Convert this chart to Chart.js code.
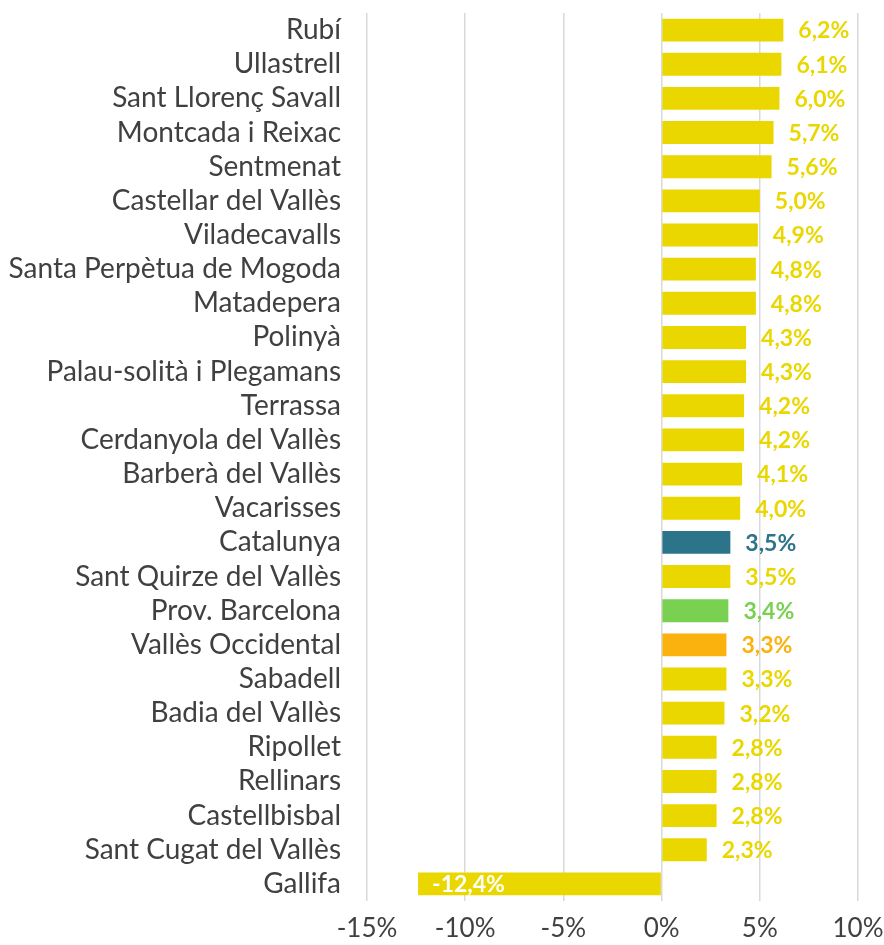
<!DOCTYPE html>
<html>
<head>
<meta charset="utf-8">
<script src="https://cdn.jsdelivr.net/npm/chart.js@4"></script>
<style>
  html, body { margin: 0; padding: 0; background: #fff; }
  #wrap { width: 884px; height: 945px; }
</style>
</head>
<body>
<div id="wrap"><canvas id="variacioChart" width="884" height="945"></canvas></div>
<script>
const municipis = [
    'Rubí', 'Ullastrell', 'Sant Llorenç Savall', 'Montcada i Reixac', 'Sentmenat',
    'Castellar del Vallès', 'Viladecavalls', 'Santa Perpètua de Mogoda', 'Matadepera', 'Polinyà',
    'Palau-solità i Plegamans', 'Terrassa', 'Cerdanyola del Vallès', 'Barberà del Vallès', 'Vacarisses',
    'Catalunya', 'Sant Quirze del Vallès', 'Prov. Barcelona', 'Vallès Occidental', 'Sabadell',
    'Badia del Vallès', 'Ripollet', 'Rellinars', 'Castellbisbal', 'Sant Cugat del Vallès', 'Gallifa'
];
const variacio = [
    6.2, 6.1, 6.0, 5.7, 5.6,
    5.0, 4.9, 4.8, 4.8, 4.3,
    4.3, 4.2, 4.2, 4.1, 4.0,
    3.5, 3.5, 3.4, 3.3, 3.3,
    3.2, 2.8, 2.8, 2.8, 2.3, -12.4
];
const xTicks = [-15, -10, -5, 0, 5, 10];

const groc = '#EAD700';
const destacats = {
    'Catalunya': '#2B7489',
    'Prov. Barcelona': '#7AD151',
    'Vallès Occidental': '#FBB20F'
};
const colors = municipis.map(m => destacats[m] || groc);

const formatPct = v => v.toFixed(1).replace('.', ',') + '%';

// etiquetes de valor al final de cada barra
const etiquetesPlugin = {
    id: 'etiquetes',
    afterDatasetsDraw(chart) {
        const ctx = chart.ctx;
        const meta = chart.getDatasetMeta(0);
        ctx.save();
        ctx.font = 'bold 23px Lato';
        ctx.textBaseline = 'middle';
        ctx.textAlign = 'left';
        meta.data.forEach((bar, i) => {
            const v = variacio[i];
            if (v >= 0) {
                ctx.fillStyle = colors[i];
                ctx.fillText(formatPct(v), bar.x + 15, bar.y + 1);
            } else {
                ctx.fillStyle = '#ffffff';
                ctx.fillText(formatPct(v), bar.x + 14, bar.y + 1);
            }
        });
        ctx.restore();
    }
};

const ctx = document.getElementById('variacioChart').getContext('2d');
new Chart(ctx, {
    type: 'bar',
    data: {
        labels: municipis,
        datasets: [{
            data: variacio,
            backgroundColor: colors,
            borderWidth: 0,
            categoryPercentage: 1,
            barPercentage: 0.67
        }]
    },
    options: {
        indexAxis: 'y',
        responsive: false,
        animation: false,
        layout: { padding: { top: 13, right: 26, left: 0, bottom: 0 } },
        scales: {
            x: {
                min: -15,
                max: 10,
                afterBuildTicks: scale => { scale.ticks = xTicks.map(v => ({ value: v })); },
                afterFit: scale => {
                    scale.height = 44;
                    scale.paddingLeft = 0;
                    scale.paddingRight = 0;
                },
                grid: { color: '#d9d9d9', lineWidth: 1.5, drawTicks: false },
                border: { display: false },
                ticks: {
                    padding: 12,
                    color: '#404040',
                    font: { family: 'Lato', size: 26 },
                    callback: v => v + '%'
                }
            },
            y: {
                afterFit: scale => {
                    scale.width = 367;
                    scale.paddingTop = 0;
                    scale.paddingBottom = 0;
                },
                grid: { display: false, drawTicks: false },
                border: { display: false },
                ticks: {
                    autoSkip: false,
                    padding: 26,
                    color: '#404040',
                    font: { family: 'Lato', size: 28 }
                }
            }
        },
        plugins: {
            legend: { display: false },
            tooltip: { enabled: false }
        }
    },
    plugins: [etiquetesPlugin]
});
</script>
</body>
</html>
